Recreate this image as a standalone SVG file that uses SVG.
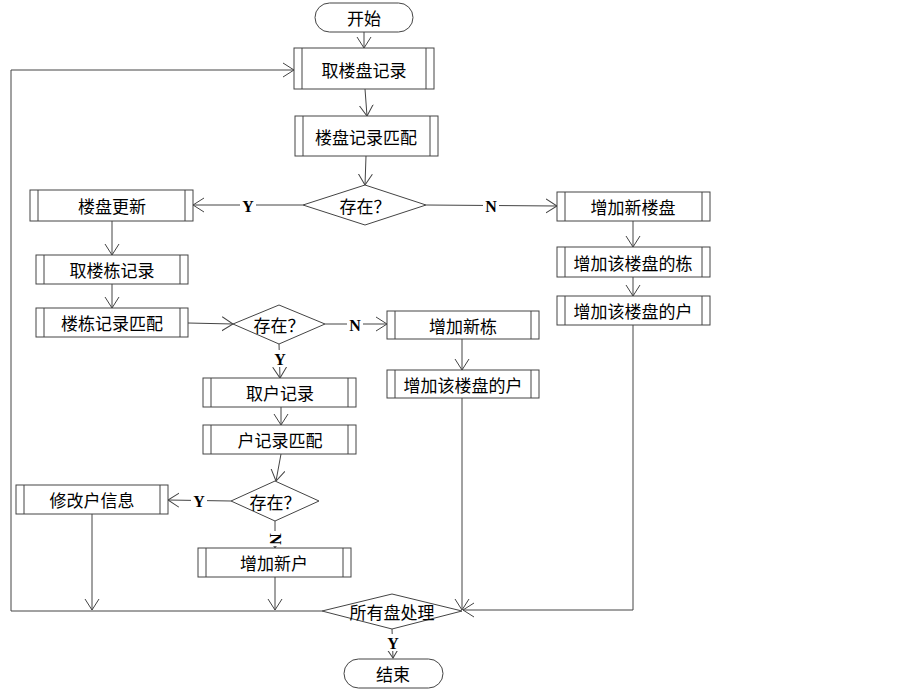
<svg xmlns="http://www.w3.org/2000/svg" width="903" height="693" viewBox="0 0 903 693">
<style>
.box{fill:#fff;stroke:#444;stroke-width:1}
.in{stroke:#444;stroke-width:1}
.t{font-family:"Noto Sans CJK SC","Noto Sans",sans-serif;font-size:17px;fill:#000;text-anchor:middle;dominant-baseline:central}
.lb{font-family:"Liberation Serif",serif;font-size:16px;font-weight:bold;fill:#000;text-anchor:middle;dominant-baseline:central}
.c{fill:none;stroke:#444;stroke-width:1;marker-end:url(#a)}
</style>
<defs>
<marker id="a" markerUnits="userSpaceOnUse" markerWidth="12" markerHeight="16" refX="11" refY="8" orient="auto">
<path d="M0,1 L11,8 L0,15" fill="none" stroke="#444" stroke-width="1"/>
</marker>
</defs>
<rect width="903" height="693" fill="#fff"/>
<g id="connectors">
<path class="c" d="M364,32 L364,48"/>
<path class="c" d="M365,89 L367,116"/>
<path class="c" d="M366,156 L365,185"/>
<path class="c" d="M303,205 L193,205"/>
<path class="c" d="M426,205 L557,206"/>
<path class="c" d="M633,221 L633,247"/>
<path class="c" d="M633,277 L633,296"/>
<path class="c" d="M633,325 L633,610 L463,610"/>
<path class="c" d="M112,221 L112,255"/>
<path class="c" d="M112,284 L112,308"/>
<path class="c" d="M188,323 L233,324"/>
<path class="c" d="M325,324 L387,324"/>
<path class="c" d="M462,339 L462,370"/>
<path class="c" d="M462,398 L462,610"/>
<path class="c" d="M279,344 L280,378"/>
<path class="c" d="M281,407 L281,425"/>
<path class="c" d="M281,454 L276,481"/>
<path class="c" d="M231,501 L168,500"/>
<path class="c" d="M275,521 L275,548"/>
<path class="c" d="M92,514 L92,610"/>
<path class="c" d="M275,577 L275,610"/>
<path class="c" d="M322,611 L11,611 L11,70 L294,70"/>
<path class="c" d="M392,629 L393,658"/>
<rect x="240" y="197" width="16" height="17" fill="#fff"/>
<text class="lb" x="248" y="206">Y</text>
<rect x="483" y="197" width="16" height="17" fill="#fff"/>
<text class="lb" x="491" y="206">N</text>
<rect x="347" y="316" width="16" height="17" fill="#fff"/>
<text class="lb" x="355" y="325">N</text>
<rect x="272" y="350" width="16" height="17" fill="#fff"/>
<text class="lb" x="280" y="359">Y</text>
<rect x="191" y="492" width="16" height="17" fill="#fff"/>
<text class="lb" x="199" y="501">Y</text>
<rect x="266" y="531" width="17" height="15" fill="#fff"/>
<text class="lb" x="275" y="539" transform="rotate(90 275 539)">N</text>
<rect x="385" y="634" width="16" height="17" fill="#fff"/>
<text class="lb" x="393" y="643">Y</text>
</g>
<g id="start"><rect class="box" x="315" y="3" width="98" height="29" rx="14.5"/><text class="t" x="364" y="17">开始</text></g>
<g id="n1"><rect class="box" x="294" y="48" width="140" height="41"/><line class="in" x1="302" y1="48" x2="302" y2="89"/><line class="in" x1="426" y1="48" x2="426" y2="89"/><text class="t" x="364" y="69">取楼盘记录</text></g>
<g id="n2"><rect class="box" x="295" y="116" width="143" height="40"/><line class="in" x1="303" y1="116" x2="303" y2="156"/><line class="in" x1="430" y1="116" x2="430" y2="156"/><text class="t" x="366" y="136">楼盘记录匹配</text></g>
<g id="d1"><polygon class="box" points="303,205 365,185 426,205 365,225"/><text class="t" x="365" y="205">存在？</text></g>
<g id="n3"><rect class="box" x="30" y="190" width="163" height="31"/><line class="in" x1="38" y1="190" x2="38" y2="221"/><line class="in" x1="185" y1="190" x2="185" y2="221"/><text class="t" x="112" y="205">楼盘更新</text></g>
<g id="n4"><rect class="box" x="36" y="255" width="152" height="29"/><line class="in" x1="44" y1="255" x2="44" y2="284"/><line class="in" x1="180" y1="255" x2="180" y2="284"/><text class="t" x="112" y="269">取楼栋记录</text></g>
<g id="n5"><rect class="box" x="36" y="308" width="152" height="29"/><line class="in" x1="44" y1="308" x2="44" y2="337"/><line class="in" x1="180" y1="308" x2="180" y2="337"/><text class="t" x="112" y="322">楼栋记录匹配</text></g>
<g id="n6"><rect class="box" x="557" y="192" width="153" height="29"/><line class="in" x1="565" y1="192" x2="565" y2="221"/><line class="in" x1="702" y1="192" x2="702" y2="221"/><text class="t" x="633" y="206">增加新楼盘</text></g>
<g id="n7"><rect class="box" x="557" y="247" width="153" height="30"/><line class="in" x1="565" y1="247" x2="565" y2="277"/><line class="in" x1="702" y1="247" x2="702" y2="277"/><text class="t" x="633" y="262">增加该楼盘的栋</text></g>
<g id="n8"><rect class="box" x="557" y="296" width="153" height="29"/><line class="in" x1="565" y1="296" x2="565" y2="325"/><line class="in" x1="702" y1="296" x2="702" y2="325"/><text class="t" x="633" y="310">增加该楼盘的户</text></g>
<g id="d2"><polygon class="box" points="233,324 279,305 325,324 279,344"/><text class="t" x="279" y="324">存在？</text></g>
<g id="n9"><rect class="box" x="387" y="311" width="152" height="28"/><line class="in" x1="395" y1="311" x2="395" y2="339"/><line class="in" x1="531" y1="311" x2="531" y2="339"/><text class="t" x="463" y="325">增加新栋</text></g>
<g id="n10"><rect class="box" x="387" y="370" width="152" height="28"/><line class="in" x1="395" y1="370" x2="395" y2="398"/><line class="in" x1="531" y1="370" x2="531" y2="398"/><text class="t" x="463" y="384">增加该楼盘的户</text></g>
<g id="n11"><rect class="box" x="203" y="378" width="153" height="29"/><line class="in" x1="211" y1="378" x2="211" y2="407"/><line class="in" x1="348" y1="378" x2="348" y2="407"/><text class="t" x="280" y="392">取户记录</text></g>
<g id="n12"><rect class="box" x="203" y="425" width="153" height="29"/><line class="in" x1="211" y1="425" x2="211" y2="454"/><line class="in" x1="348" y1="425" x2="348" y2="454"/><text class="t" x="280" y="439">户记录匹配</text></g>
<g id="d3"><polygon class="box" points="231,501 275,481 319,501 275,521"/><text class="t" x="275" y="501">存在？</text></g>
<g id="n13"><rect class="box" x="16" y="485" width="152" height="29"/><line class="in" x1="24" y1="485" x2="24" y2="514"/><line class="in" x1="160" y1="485" x2="160" y2="514"/><text class="t" x="92" y="499">修改户信息</text></g>
<g id="n14"><rect class="box" x="198" y="548" width="153" height="29"/><line class="in" x1="206" y1="548" x2="206" y2="577"/><line class="in" x1="343" y1="548" x2="343" y2="577"/><text class="t" x="274" y="562">增加新户</text></g>
<g id="d4"><polygon class="box" points="322,611 392,594 462,611 392,629"/><text class="t" x="392" y="611">所有盘处理</text></g>
<g id="end"><rect class="box" x="344" y="659" width="99" height="29" rx="14.5"/><text class="t" x="393" y="673">结束</text></g>
</svg>
